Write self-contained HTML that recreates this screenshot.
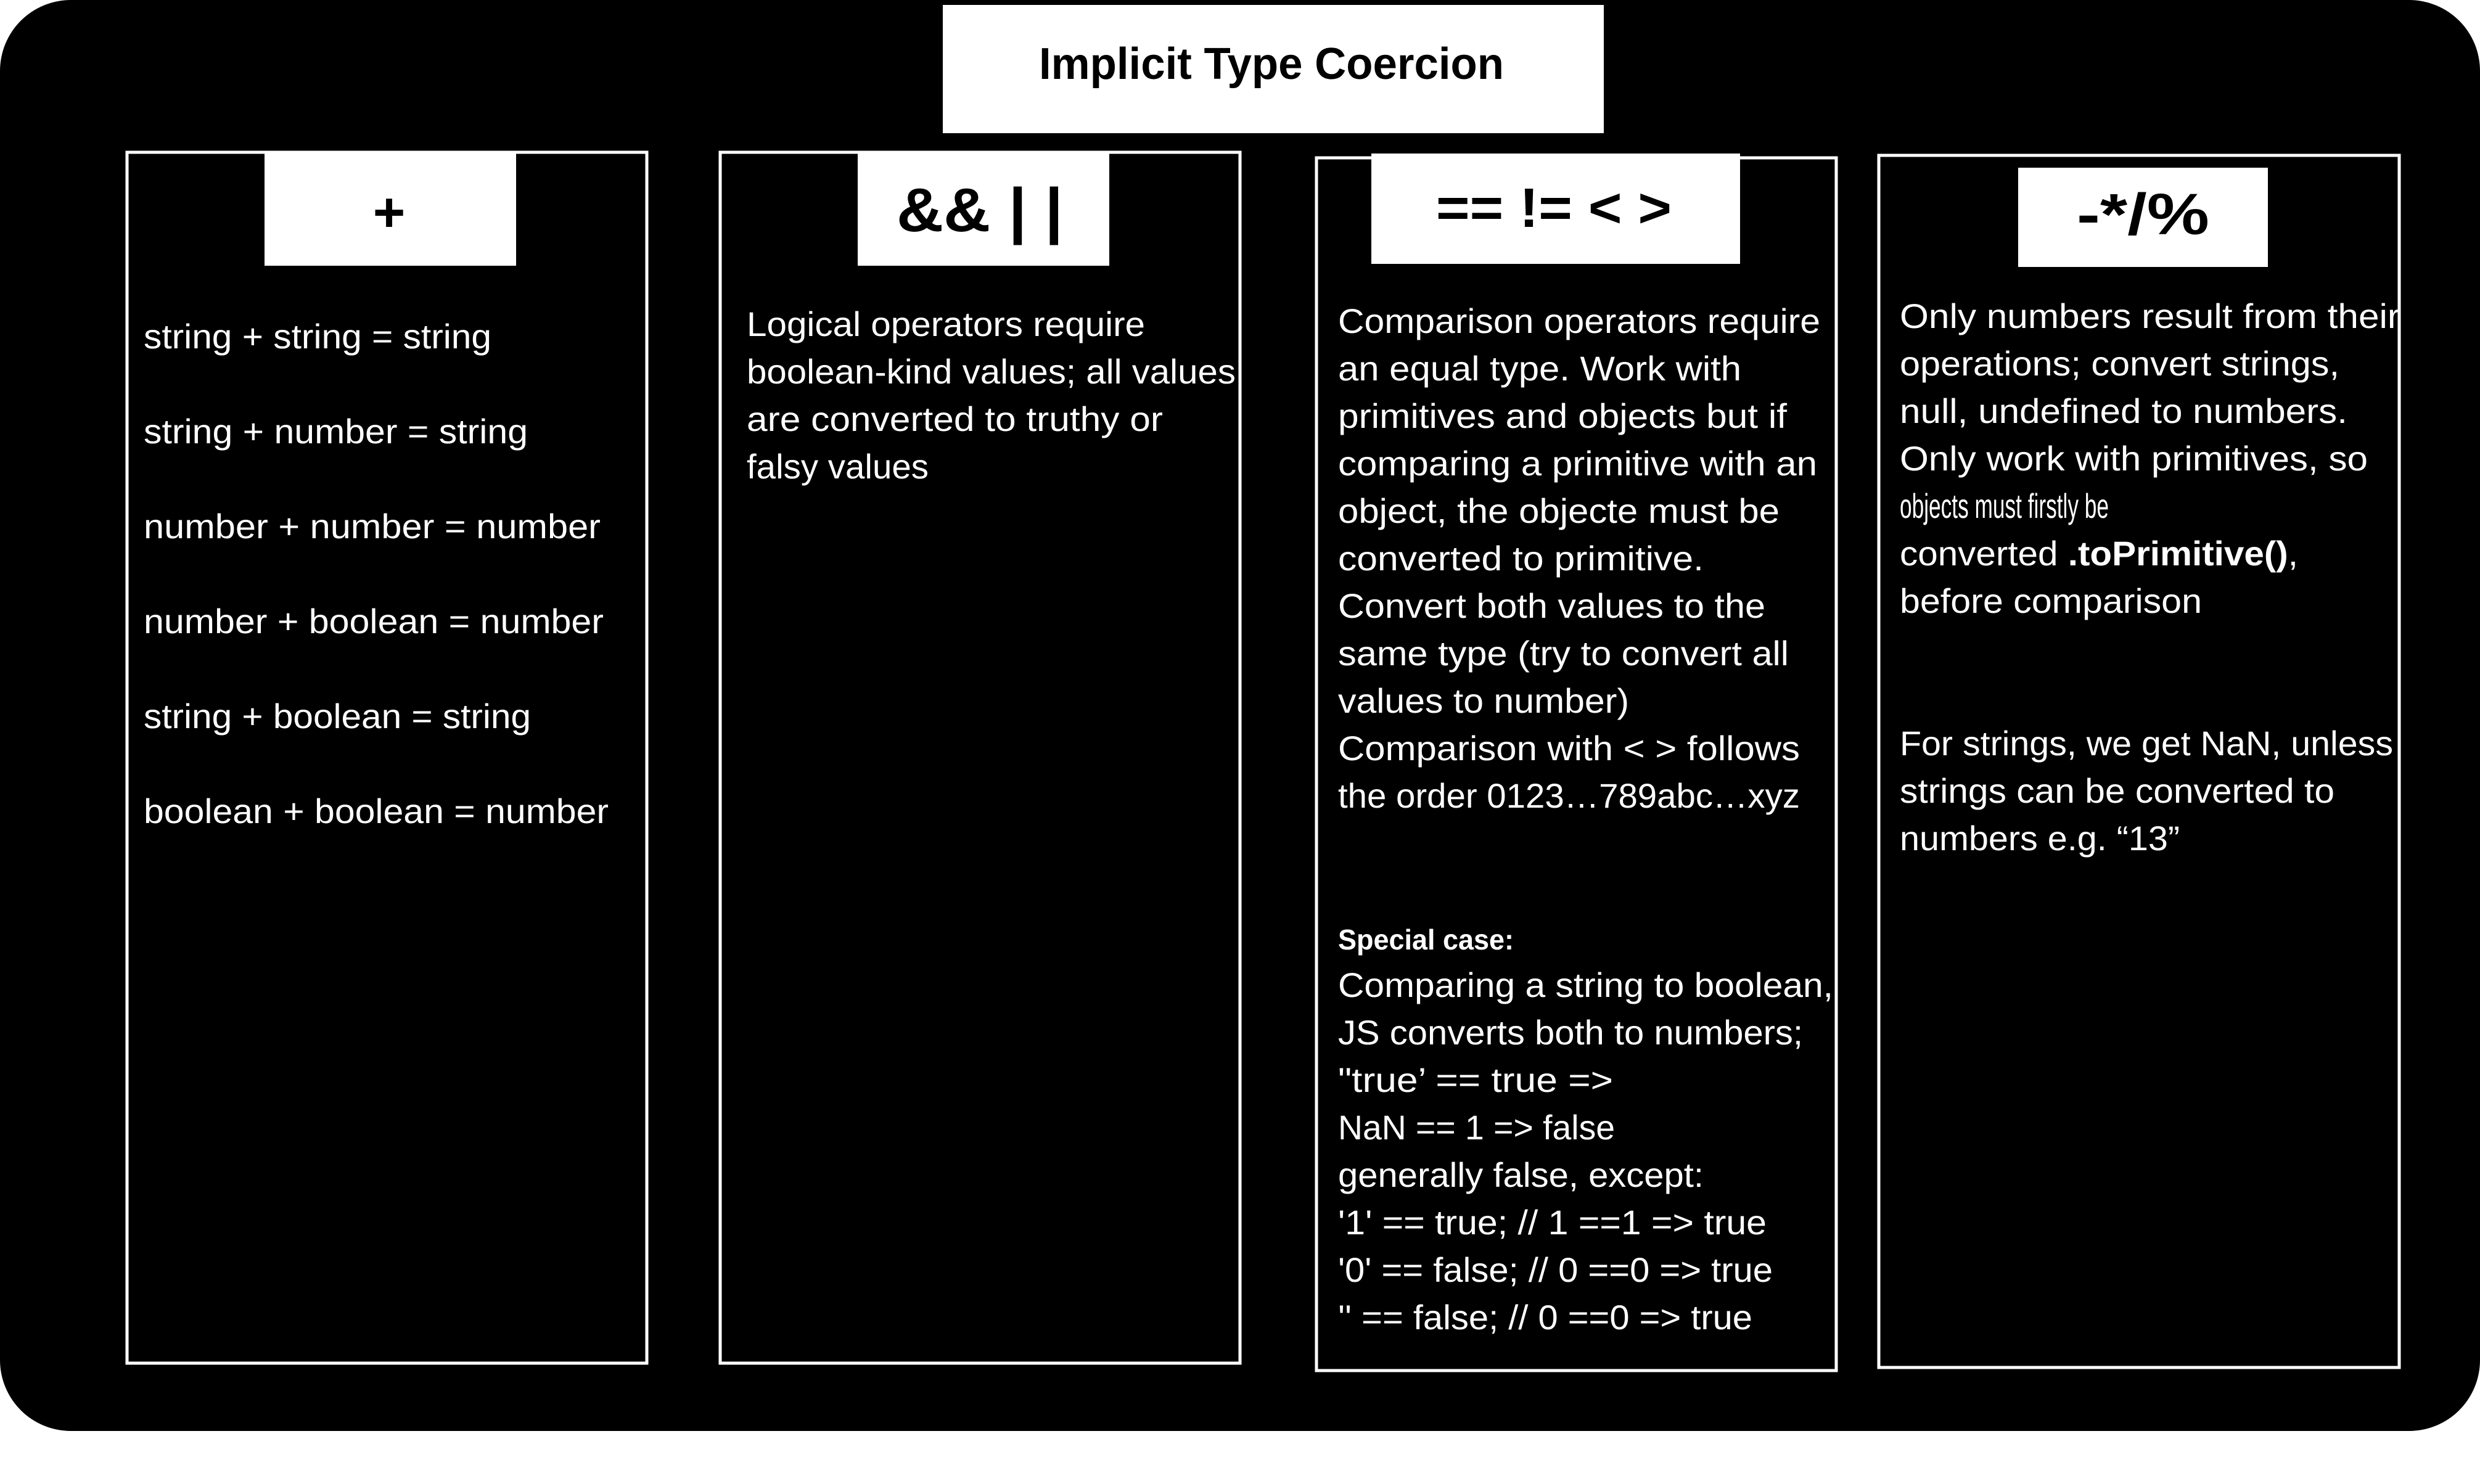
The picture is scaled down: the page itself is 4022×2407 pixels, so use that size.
<!DOCTYPE html>
<html><head><meta charset="utf-8"><style>html,body{margin:0;padding:0;background:#fff}svg{display:block}</style></head>
<body>
<svg xmlns="http://www.w3.org/2000/svg" width="4022" height="2407" viewBox="0 0 4022 2407" font-family="'Liberation Sans', sans-serif">
<rect x="0" y="0" width="4022" height="2407" fill="#fff"/>
<rect x="0" y="0" width="4022" height="2321" rx="115" ry="115" fill="#000"/>
<rect x="1529" y="8" width="1072" height="208" fill="#fff"/>
<text x="1685" y="128" font-size="72" font-weight="bold" fill="#000" textLength="754" lengthAdjust="spacingAndGlyphs">Implicit Type Coercion</text>
<g fill="none" stroke="#fff" stroke-width="5">
<rect x="206" y="247" width="843" height="1964"/>
<rect x="1168" y="247" width="843" height="1964"/>
<rect x="2135" y="256" width="843" height="1967"/>
<rect x="3047" y="252" width="844" height="1966"/>
</g>
<g fill="#fff">
<rect x="429" y="249" width="408" height="182"/>
<rect x="1391" y="249" width="408" height="182"/>
<rect x="2224" y="249" width="598" height="179"/>
<rect x="3273" y="272" width="405" height="161"/>
</g>
<g fill="#000" font-weight="bold">
<text x="631" y="375" font-size="90" text-anchor="middle">+</text>
<text x="1454" y="375" font-size="100" textLength="270" lengthAdjust="spacingAndGlyphs">&amp;&amp; | |</text>
<text x="2329" y="368" font-size="90" textLength="382" lengthAdjust="spacingAndGlyphs">== != &lt; &gt;</text>
<text x="3368" y="380" font-size="95" textLength="215" lengthAdjust="spacingAndGlyphs">-*/%</text>
</g>
<g fill="#fff" font-size="56">
<text x="233" y="565" textLength="564" lengthAdjust="spacingAndGlyphs">string + string = string</text>
<text x="233" y="719" textLength="623" lengthAdjust="spacingAndGlyphs">string + number = string</text>
<text x="233" y="873" textLength="741" lengthAdjust="spacingAndGlyphs">number + number = number</text>
<text x="233" y="1027" textLength="746" lengthAdjust="spacingAndGlyphs">number + boolean = number</text>
<text x="233" y="1181" textLength="628" lengthAdjust="spacingAndGlyphs">string + boolean = string</text>
<text x="233" y="1335" textLength="754" lengthAdjust="spacingAndGlyphs">boolean + boolean = number</text>

<text x="1211" y="545" textLength="646" lengthAdjust="spacingAndGlyphs">Logical operators require</text>
<text x="1211" y="622" textLength="793" lengthAdjust="spacingAndGlyphs">boolean-kind values; all values</text>
<text x="1211" y="699" textLength="675" lengthAdjust="spacingAndGlyphs">are converted to truthy or</text>
<text x="1211" y="776" textLength="295" lengthAdjust="spacingAndGlyphs">falsy values</text>

<text x="2170" y="540" textLength="782" lengthAdjust="spacingAndGlyphs">Comparison operators require</text>
<text x="2170" y="617" textLength="654" lengthAdjust="spacingAndGlyphs">an equal type. Work with</text>
<text x="2170" y="694" textLength="728" lengthAdjust="spacingAndGlyphs">primitives and objects but if</text>
<text x="2170" y="771" textLength="777" lengthAdjust="spacingAndGlyphs">comparing a primitive with an</text>
<text x="2170" y="848" textLength="716" lengthAdjust="spacingAndGlyphs">object, the objecte must be</text>
<text x="2170" y="925" textLength="593" lengthAdjust="spacingAndGlyphs">converted to primitive.</text>
<text x="2170" y="1002" textLength="693" lengthAdjust="spacingAndGlyphs">Convert both values to the</text>
<text x="2170" y="1079" textLength="731" lengthAdjust="spacingAndGlyphs">same type (try to convert all</text>
<text x="2170" y="1156" textLength="472" lengthAdjust="spacingAndGlyphs">values to number)</text>
<text x="2170" y="1233" textLength="749" lengthAdjust="spacingAndGlyphs">Comparison with &lt; &gt;  follows</text>
<text x="2170" y="1310" textLength="749" lengthAdjust="spacingAndGlyphs">the order 0123…789abc…xyz</text>
<text x="2170" y="1540" font-size="46" font-weight="bold" textLength="285" lengthAdjust="spacingAndGlyphs">Special case:</text>
<text x="2170" y="1617" textLength="803" lengthAdjust="spacingAndGlyphs">Comparing a string to boolean,</text>
<text x="2170" y="1694" textLength="754" lengthAdjust="spacingAndGlyphs">JS converts both to numbers;</text>
<text x="2170" y="1771" textLength="446" lengthAdjust="spacingAndGlyphs">"true’ == true  =&gt;</text>
<text x="2170" y="1848" textLength="449" lengthAdjust="spacingAndGlyphs">NaN == 1 =&gt; false</text>
<text x="2170" y="1925" textLength="593" lengthAdjust="spacingAndGlyphs">generally false, except:</text>
<text x="2170" y="2002" textLength="695" lengthAdjust="spacingAndGlyphs">'1' == true; // 1 ==1 =&gt; true</text>
<text x="2170" y="2079" textLength="705" lengthAdjust="spacingAndGlyphs">'0' == false; // 0 ==0 =&gt; true</text>
<text x="2170" y="2156" textLength="672" lengthAdjust="spacingAndGlyphs">'' == false; // 0 ==0 =&gt; true</text>

<text x="3081" y="532" textLength="811" lengthAdjust="spacingAndGlyphs">Only numbers result from their</text>
<text x="3081" y="609" textLength="713" lengthAdjust="spacingAndGlyphs">operations; convert strings,</text>
<text x="3081" y="686" textLength="726" lengthAdjust="spacingAndGlyphs">null, undefined to numbers.</text>
<text x="3081" y="763" textLength="759" lengthAdjust="spacingAndGlyphs">Only work with primitives, so</text>
<text x="3081" y="840" textLength="339" lengthAdjust="spacingAndGlyphs">objects must firstly be</text>
<text x="3081" y="917" textLength="646" lengthAdjust="spacingAndGlyphs">converted <tspan font-weight="bold">.toPrimitive()</tspan>,</text>
<text x="3081" y="994" textLength="490" lengthAdjust="spacingAndGlyphs">before comparison</text>
<text x="3081" y="1225" textLength="800" lengthAdjust="spacingAndGlyphs">For strings, we get NaN, unless</text>
<text x="3081" y="1302" textLength="705" lengthAdjust="spacingAndGlyphs">strings can be converted to</text>
<text x="3081" y="1379" textLength="454" lengthAdjust="spacingAndGlyphs">numbers e.g. “13”</text>
</g>
</svg>
</body></html>
